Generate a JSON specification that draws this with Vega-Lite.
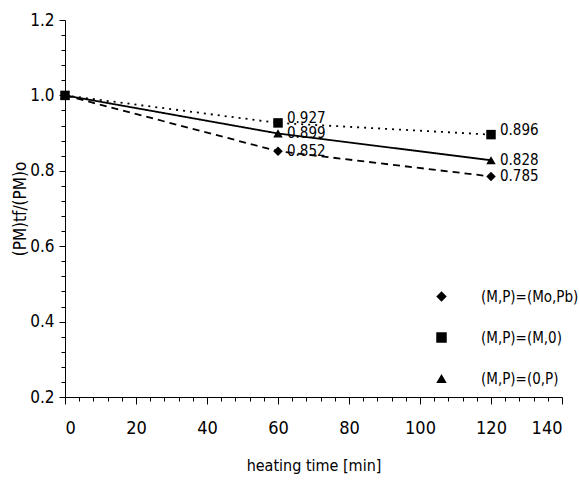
{
  "$schema": "https://vega.github.io/schema/vega-lite/v6.json",
  "width": 497,
  "height": 377,
  "autosize": {"type": "none"},
  "padding": {"left": 65, "top": 20, "right": 17, "bottom": 84},
  "background": "white",
  "config": {
    "view": {"stroke": null},
    "font": "Liberation Sans",
    "axis": {
      "domainColor": "black",
      "tickColor": "black",
      "labelColor": "black",
      "titleColor": "black",
      "grid": false,
      "labelFont": "DejaVu Sans Condensed, Liberation Sans Narrow, Liberation Sans",
      "titleFont": "DejaVu Sans Condensed, Liberation Sans Narrow, Liberation Sans",
      "titleFontWeight": "normal"
    },
    "legend": {
      "title": null,
      "orient": "none",
      "legendX": 369,
      "legendY": 269,
      "symbolSize": 110,
      "symbolFillColor": "black",
      "symbolStrokeColor": "black",
      "symbolStrokeWidth": 1.5,
      "labelFontSize": 15,
      "labelFont": "DejaVu Sans Condensed, Liberation Sans Narrow, Liberation Sans",
      "labelColor": "black",
      "labelOffset": 32,
      "rowPadding": 24
    }
  },
  "data": {
    "values": [
      {"series": "(M,P)=(Mo,Pb)", "time": 0, "value": 1.0},
      {"series": "(M,P)=(Mo,Pb)", "time": 60, "value": 0.852},
      {"series": "(M,P)=(Mo,Pb)", "time": 120, "value": 0.785},
      {"series": "(M,P)=(M,0)", "time": 0, "value": 1.0},
      {"series": "(M,P)=(M,0)", "time": 60, "value": 0.927},
      {"series": "(M,P)=(M,0)", "time": 120, "value": 0.896},
      {"series": "(M,P)=(0,P)", "time": 0, "value": 1.0},
      {"series": "(M,P)=(0,P)", "time": 60, "value": 0.899},
      {"series": "(M,P)=(0,P)", "time": 120, "value": 0.828}
    ]
  },
  "encoding": {
    "x": {
      "field": "time",
      "type": "quantitative",
      "scale": {"domain": [0, 140], "nice": false},
      "axis": {
        "title": "heating time [min]",
        "titleFontSize": 16,
        "titlePadding": 20,
        "values": [0,4,8,12,16,20,24,28,32,36,40,44,48,52,56,60,64,68,72,76,80,84,88,92,96,100,104,108,112,116,120,124,128,132,136,140],
        "labelExpr": "datum.value % 20 === 0 ? datum.label : ''",
        "labelFontSize": 18,
        "labelPadding": 15,
        "labelOverlap": false,
        "tickSize": {"condition": {"test": "datum.value % 20 === 0", "value": 7}, "value": 4}
      }
    },
    "y": {
      "field": "value",
      "type": "quantitative",
      "scale": {"domain": [0.2, 1.2], "nice": false, "zero": false},
      "axis": {
        "title": "(PM)tf/(PM)o",
        "titleFontSize": 17,
        "titleX": -45,
        "titleBaseline": "middle",
        "values": [0.2,0.24,0.28,0.32,0.36,0.4,0.44,0.48,0.52,0.56,0.6,0.64,0.68,0.72,0.76,0.8,0.84,0.88,0.92,0.96,1.0,1.04,1.08,1.12,1.16,1.2],
        "format": ".1f",
        "labelExpr": "abs(datum.value * 5 - round(datum.value * 5)) < 0.001 ? datum.label : ''",
        "labelFontSize": 17,
        "labelPadding": 5,
        "labelOverlap": false,
        "tickSize": {"condition": {"test": "abs(datum.value * 5 - round(datum.value * 5)) < 0.001", "value": 6}, "value": 4}
      }
    }
  },
  "layer": [
    {
      "mark": {"type": "line", "color": "black", "strokeWidth": 1.8},
      "encoding": {
        "strokeDash": {
          "field": "series",
          "type": "nominal",
          "scale": {
            "domain": ["(M,P)=(Mo,Pb)", "(M,P)=(M,0)", "(M,P)=(0,P)"],
            "range": [[7, 5], [2, 5], [1, 0]]
          },
          "legend": {}
        }
      }
    },
    {
      "mark": {"type": "point", "filled": true, "color": "black", "opacity": 1, "size": 90},
      "encoding": {
        "shape": {
          "field": "series",
          "type": "nominal",
          "scale": {
            "domain": ["(M,P)=(Mo,Pb)", "(M,P)=(M,0)", "(M,P)=(0,P)"],
            "range": ["diamond", "square", "triangle-up"]
          },
          "legend": {}
        }
      }
    },
    {
      "transform": [{"filter": "datum.time > 0 && datum.series === '(M,P)=(M,0)'"}],
      "mark": {"type": "text", "align": "left", "baseline": "middle", "dx": 9, "dy": -5, "fontSize": 15, "font": "DejaVu Sans Condensed, Liberation Sans Narrow, Liberation Sans", "color": "black"},
      "encoding": {
        "text": {"field": "value", "type": "quantitative", "format": ".3f"}
      }
    },
    {
      "transform": [{"filter": "datum.time > 0 && datum.series !== '(M,P)=(M,0)'"}],
      "mark": {"type": "text", "align": "left", "baseline": "middle", "dx": 9, "fontSize": 15, "font": "DejaVu Sans Condensed, Liberation Sans Narrow, Liberation Sans", "color": "black"},
      "encoding": {
        "text": {"field": "value", "type": "quantitative", "format": ".3f"}
      }
    }
  ]
}
